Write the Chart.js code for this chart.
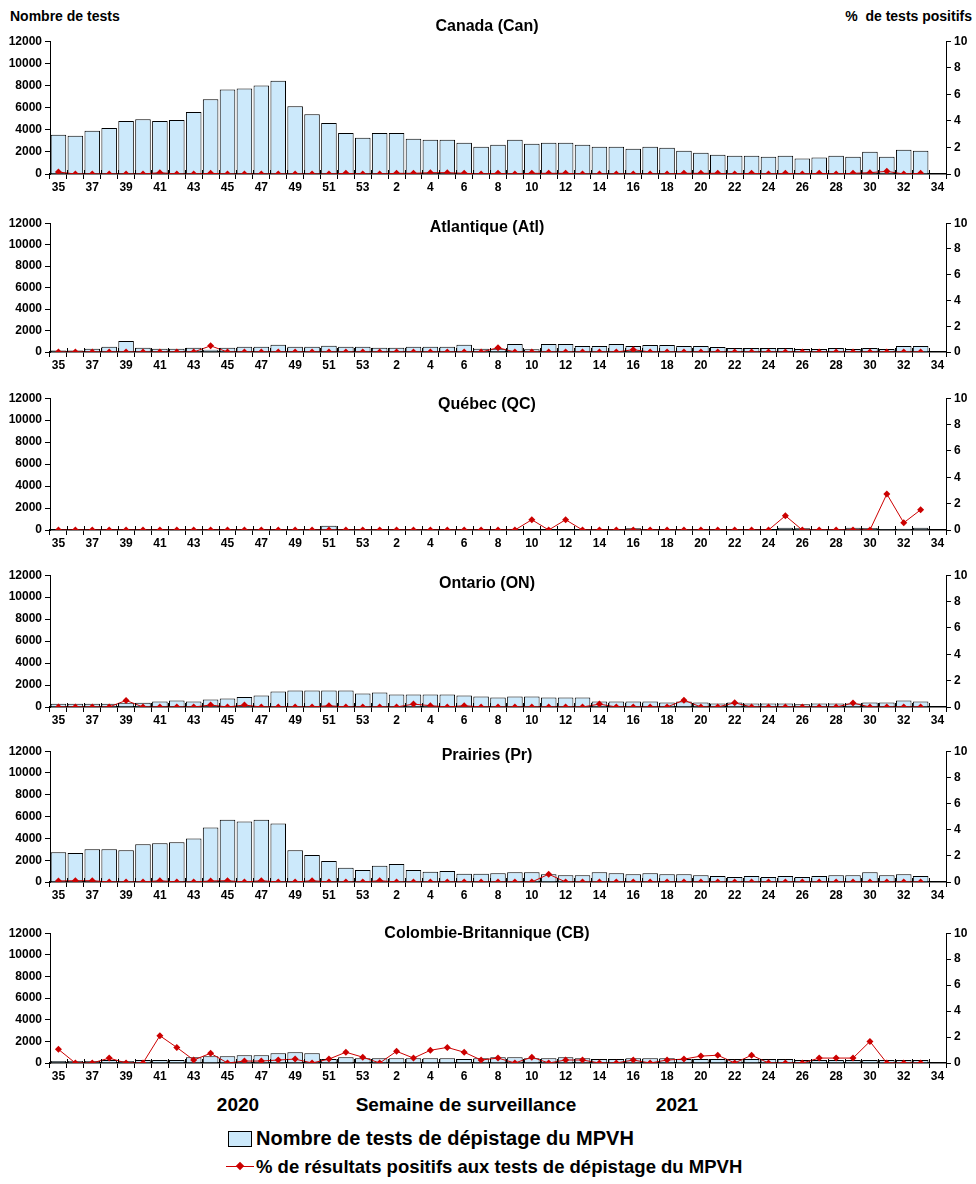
<!DOCTYPE html>
<html>
<head>
<meta charset="utf-8">
<script src="https://cdn.jsdelivr.net/npm/chart.js@4.4.0/dist/chart.umd.min.js"></script>
<style>
  body { margin: 0; background: #fff; font-family: "Liberation Sans", Arial, sans-serif; }
  #page { position: relative; width: 976px; height: 1184px; }
  canvas { position: absolute; left: 0; }
  .txt { position: absolute; font-weight: bold; color: #000; white-space: nowrap; }
  .title { font-size: 16px; transform: translate(-50%, -50%); }
</style>
</head>
<body>
<div id="page">
  <div class="txt" style="left:10px; top:8px; font-size:14px;">Nombre de tests</div>
  <div class="txt" style="right:4px; top:8px; font-size:14px;">% &nbsp;de tests positifs</div>

  <div class="txt" style="left:238px; top:1105px; font-size:19px; transform:translate(-50%,-50%);">2020</div>
  <div class="txt" style="left:466px; top:1105px; font-size:19px; transform:translate(-50%,-50%);">Semaine de surveillance</div>
  <div class="txt" style="left:677px; top:1105px; font-size:19px; transform:translate(-50%,-50%);">2021</div>

  <div style="position:absolute; left:228px; top:1131px; width:24px; height:16px; background:#cce9fb; border:1px solid #000; box-sizing:border-box;"></div>
  <div class="txt" style="left:256px; top:1127px; font-size:20px;">Nombre de tests de dépistage du MPVH</div>
  <div style="position:absolute; left:226px; top:1166px; width:28px; height:1px; background:#cc0000;"></div>
  <div style="position:absolute; left:237px; top:1163px; width:6px; height:6px; background:#cc0000; transform:rotate(45deg);"></div>
  <div class="txt" style="left:256px; top:1156px; font-size:18.5px;">% de résultats positifs aux tests de dépistage du MPVH</div>
</div>
<script>
const weeks = ['35','36','37','38','39','40','41','42','43','44','45','46','47','48','49','50','51','52','53',
  '1','2','3','4','5','6','7','8','9','10','11','12','13','14','15','16','17','18','19','20',
  '21','22','23','24','25','26','27','28','29','30','31','32','33','34'];

const canTests = [3550,3450,3900,4150,4800,4950,4800,4870,5600,6750,7630,7720,8000,8430,6120,5400,4600,3700,3270,
  3700,3700,3180,3100,3100,2820,2470,2640,3100,2730,2820,2820,2640,2470,2470,2290,2470,2380,2110,1930,
  1750,1660,1660,1570,1660,1400,1490,1660,1570,2020,1570,2200,2110,null];
const canPct = [0.15,0,0,0,0,0,0.1,0,0,0.05,0,0,0,0,0,0,0,0.05,0,
  0,0.05,0.05,0.1,0.1,0.05,0,0.05,0,0.05,0.05,0.05,0,0,0,0,0,0,0.05,0.05,
  0.05,0,0.05,0,0.05,0,0.05,0,0.05,0.1,0.2,0,0.05,null];

const atlTests = [150,150,300,490,1015,400,300,300,400,220,400,490,490,680,490,490,580,490,490,
  400,400,490,490,490,680,300,300,740,250,740,740,550,550,740,550,650,650,550,550,
  460,370,370,370,370,280,280,370,280,370,280,550,550,null];
const atlPct = [0,0,0,0,0,0,0,0,0,0.48,0,0,0,0,0,0,0,0,0,
  0,0,0,0,0,0,0,0.33,0,0,0,0,0,0,0,0.18,0,0,0,0,
  0,0,0,0,0,0,0,0,0,0,0,0,0,null];

const qcTests = [30,30,30,30,30,30,30,30,30,30,30,30,30,30,30,30,390,30,30,
  40,40,40,40,40,40,40,40,40,40,40,40,40,40,40,150,40,40,40,40,
  40,40,40,40,200,150,100,100,200,180,100,120,200,null];
const qcPct = [0,0,0,0,0,0,0,0,0,0,0,0,0,0,0,0,0,0,0,
  0,0,0,0,0,0,0,0,0,0.78,0,0.78,0,0,0,0,0,0,0,0,
  0,0,0,0,1.08,0,0,0,0,0,2.73,0.55,1.53,null];

const onTests = [300,300,300,300,390,390,510,600,510,690,780,900,1050,1400,1500,1500,1500,1500,1230,
  1320,1140,1140,1140,1140,1050,960,870,960,960,870,870,870,510,510,510,510,420,510,420,
  330,420,330,330,330,240,330,330,330,420,420,600,510,null];
const onPct = [0,0,0,0,0.5,0,0,0,0,0.15,0,0.15,0,0,0,0,0.1,0,0,
  0,0,0.22,0.1,0,0.1,0,0,0,0,0,0,0,0.22,0,0,0,0,0.52,0,
  0,0.32,0,0,0,0,0,0,0.3,0,0,0,0,null];

const prTests = [2740,2650,3010,3010,2920,3460,3550,3640,4000,5000,5720,5540,5720,5360,2920,2470,1930,1300,1110,
  1480,1660,1110,930,1020,750,750,810,900,900,720,630,630,900,810,720,810,720,720,630,
  540,450,540,450,540,450,540,630,630,900,630,720,540,null];
const prPct = [0.08,0.1,0.1,0,0,0,0.1,0,0,0.08,0.1,0,0.1,0,0,0.1,0,0,0,
  0.1,0,0,0,0,0,0,0,0,0,0.6,0,0,0,0,0,0,0,0,0,
  0,0,0,0,0,0,0,0,0,0,0,0,0,null];

const cbTests = [180,180,180,270,180,270,270,270,540,630,630,720,720,900,1000,900,360,540,450,
  450,450,450,450,450,360,450,540,540,450,450,540,450,360,360,450,450,450,360,360,
  360,360,360,360,360,270,270,270,270,270,270,270,270,null];
const cbPct = [1.05,0,0,0.38,0,0,2.1,1.2,0.23,0.75,0,0.15,0.15,0.23,0.3,0,0.3,0.83,0.45,
  0,0.9,0.38,0.98,1.2,0.83,0.23,0.38,0,0.45,0,0.23,0.23,0,0,0.23,0,0.23,0.3,0.53,
  0.6,0,0.6,0,0,0,0.38,0.38,0.38,1.66,0,0,0,null];

const panels = [
  { title: 'Canada (Can)', tests: canTests, pct: canPct, top: 39, bottom: 174, titleY: 26 },
  { title: 'Atlantique (Atl)', tests: atlTests, pct: atlPct, top: 221, bottom: 352, titleY: 227 },
  { title: 'Québec (QC)', tests: qcTests, pct: qcPct, top: 396, bottom: 530, titleY: 404 },
  { title: 'Ontario (ON)', tests: onTests, pct: onPct, top: 573, bottom: 707, titleY: 583 },
  { title: 'Prairies (Pr)', tests: prTests, pct: prPct, top: 749, bottom: 882, titleY: 755 },
  { title: 'Colombie-Britannique (CB)', tests: cbTests, pct: cbPct, top: 931, bottom: 1063, titleY: 933 }
];

const tickFont = { family: '"Liberation Sans", Arial, sans-serif', size: 12, weight: 'bold' };
const PAD_TOP = 8, X_H = 24;

// little ticks above the x axis, Excel draws them crossing the axis
const crossTicks = {
  id: 'crossTicks',
  afterDraw(chart) {
    const x = chart.scales.x, ctx = chart.ctx;
    const n = weeks.length, step = x.width / n, y = chart.chartArea.bottom;
    ctx.save();
    ctx.strokeStyle = '#000';
    ctx.lineWidth = 1;
    ctx.beginPath();
    for (let i = 0; i <= n; i++) {
      const px = Math.round(x.left + i * step) + 0.5;
      ctx.moveTo(px, y - 4);
      ctx.lineTo(px, y);
    }
    ctx.stroke();
    ctx.restore();
  }
};

const page = document.getElementById('page');

panels.forEach((p) => {
  const h = p.bottom - p.top + PAD_TOP + X_H;
  const canvas = document.createElement('canvas');
  canvas.width = 976;
  canvas.height = h;
  canvas.style.top = (p.top - PAD_TOP) + 'px';
  canvas.style.width = '976px';
  canvas.style.height = h + 'px';
  page.appendChild(canvas);

  const t = document.createElement('div');
  t.className = 'txt title';
  t.style.left = '487px';
  t.style.top = p.titleY + 'px';
  t.textContent = p.title;
  page.appendChild(t);

  new Chart(canvas.getContext('2d'), {
    type: 'bar',
    data: {
      labels: weeks,
      datasets: [
        {
          type: 'line',
          label: '% de résultats positifs aux tests de dépistage du MPVH',
          data: p.pct,
          yAxisID: 'y2',
          borderColor: '#cc0000',
          backgroundColor: '#cc0000',
          borderWidth: 1,
          pointStyle: 'rectRot',
          pointRadius: 3.5,
          pointBorderWidth: 0,
          tension: 0,
          order: 1
        },
        {
          label: 'Nombre de tests de dépistage du MPVH',
          data: p.tests,
          yAxisID: 'y',
          backgroundColor: '#cce9fb',
          borderColor: '#000',
          borderWidth: 1,
          barPercentage: 0.92,
          categoryPercentage: 1,
          order: 2
        }
      ]
    },
    plugins: [crossTicks],
    options: {
      responsive: false,
      animation: false,
      devicePixelRatio: 1,
      layout: { padding: { top: PAD_TOP, left: 0, right: 0, bottom: 0 } },
      plugins: { legend: { display: false }, tooltip: { enabled: false } },
      scales: {
        x: {
          z: 1,
          offset: true,
          grid: { offset: true, drawOnChartArea: false, drawTicks: true, tickLength: 5, color: '#000' },
          border: { color: '#000', width: 1.5 },
          ticks: {
            color: '#000', font: tickFont, autoSkip: false, maxRotation: 0, padding: 1,
            callback: (v, idx) => (idx % 2 === 0 ? weeks[idx] : '')
          },
          afterFit: (s) => { s.height = X_H; }
        },
        y: {
          position: 'left',
          min: 0, max: 12000,
          ticks: { stepSize: 2000, color: '#000', font: tickFont, padding: 3, callback: (v) => String(v) },
          grid: { drawOnChartArea: false, tickLength: 5, color: '#000' },
          border: { color: '#000', width: 1 },
          afterFit: (s) => { s.width = 50; }
        },
        y2: {
          position: 'right',
          min: 0, max: 10,
          ticks: { stepSize: 2, color: '#000', font: tickFont, padding: 3, callback: (v) => String(v) },
          grid: { drawOnChartArea: false, tickLength: 5, color: '#000' },
          border: { color: '#000', width: 1 },
          afterFit: (s) => { s.width = 30; }
        }
      }
    }
  });
});
</script>
</body>
</html>
